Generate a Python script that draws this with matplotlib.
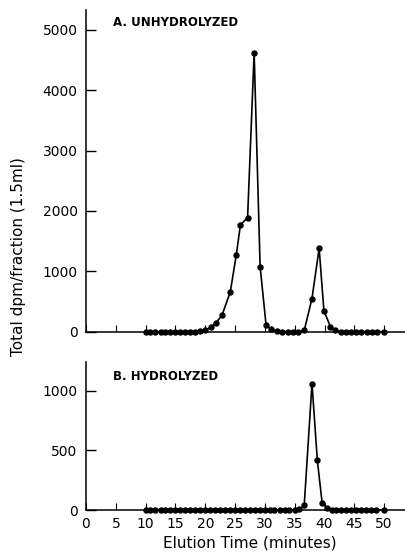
import matplotlib
matplotlib.use("Agg")
import matplotlib.pyplot as plt

plt.rcParams['font.family'] = ['DejaVu Sans']

# panel A: unhydrolyzed
time_a = [10.0, 10.8, 11.6, 12.5, 13.3, 14.1, 15.0, 15.8, 16.6, 17.5, 18.3,
          19.1, 20.0, 20.9, 21.8, 22.8, 24.2, 25.2, 25.9, 27.1, 28.2, 29.2,
          30.2, 31.1, 32.0, 32.9, 33.8, 34.7, 35.6, 36.6, 37.9, 39.1, 39.9,
          41.0, 41.8, 42.7, 43.6, 44.5, 45.3, 46.2, 47.1, 47.9, 48.8, 49.9]
dpm_a = [0, 0, 0, 0, 0, 0, 0, 0, 0, 0, 0,
         15, 30, 70, 150, 270, 660, 1270, 1770, 1890, 4620, 1080,
         110, 40, 10, 0, 0, 0, 0, 20, 550, 1380, 350,
         80, 20, 0, 0, 0, 0, 0, 0, 0, 0, 0]

# panel B: hydrolyzed
time_b = [10.0, 10.8, 11.6, 12.5, 13.3, 14.1, 15.0, 15.8, 16.6, 17.5, 18.3,
          19.1, 20.0, 20.8, 21.6, 22.5, 23.3, 24.1, 25.0, 25.8, 26.6, 27.5,
          28.3, 29.1, 30.0, 30.8, 31.6, 32.5, 33.3, 34.1, 35.0, 35.8, 36.6,
          37.9, 38.8, 39.6, 40.4, 41.2, 42.0, 42.8, 43.6, 44.5, 45.3, 46.1,
          47.0, 47.8, 48.6, 49.9]
dpm_b = [0, 0, 0, 0, 0, 0, 0, 0, 0, 0, 0,
         0, 0, 0, 0, 0, 0, 0, 0, 0, 0, 0,
         0, 0, 0, 0, 0, 0, 0, 0, 0, 5, 40,
         1060, 415, 60, 15, 0, 0, 0, 0, 0, 0, 0,
         0, 0, 0, 0]

x_ticks = [0, 5, 10, 15, 20, 25, 30, 35, 40, 45, 50]
yticks_a = [0, 1000, 2000, 3000, 4000, 5000]
yticks_b = [0, 500, 1000]

W, H = 405, 553
fig = plt.figure(figsize=(W / 100, H / 100), dpi=100)

left = 86 / W
width = (W - 86) / W
ax1 = fig.add_axes([left, 1 - 331.7 / H, width, (331.7 - 10) / H])
ax2 = fig.add_axes([left, 1 - 510 / H, width, (510 - 361.7) / H])

for ax, t, v, yt, ymax, label, ly in (
	(ax1, time_a, dpm_a, yticks_a, 5330, "A. UNHYDROLYZED", 22),
	(ax2, time_b, dpm_b, yticks_b, 1243, "B. HYDROLYZED", 376),
):
	ax.plot(t, v, color='black', linewidth=1.2, marker='o',
	        markersize=3.6, clip_on=False, zorder=3)
	ax.set_xlim(0, 53.5)
	ax.set_ylim(0, ymax)
	ax.set_yticks(yt)
	ax.set_xticks(x_ticks)
	for side in ('top', 'right'):
		ax.spines[side].set_visible(False)
	for side in ('left', 'bottom'):
		ax.spines[side].set_linewidth(1.1)
	ax.tick_params(axis='y', direction='in', length=7.5, width=1.0,
	               labelsize=10, pad=6)
	ax.tick_params(axis='x', direction='in', length=5, width=0.8,
	               labelsize=10, pad=5)
	fig.text(113 / W, 1 - ly / H, label, fontsize=8.5, fontweight='bold',
	         ha='left', va='center')

ax1.tick_params(axis='x', labelbottom=False)

fig.text(19 / W, 1 - 257 / H, "Total dpm/fraction (1.5ml)", rotation=90,
         fontsize=11, ha='center', va='center')
fig.text(250 / W, 1 - 543 / H, "Elution Time (minutes)",
         fontsize=11, ha='center', va='center')

fig.savefig("out.png", dpi=100)
